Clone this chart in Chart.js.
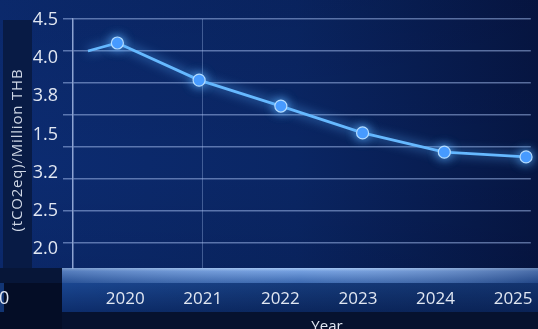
<!DOCTYPE html>
<html>
<head>
<meta charset="utf-8">
<script src="https://cdn.jsdelivr.net/npm/chart.js@4.4.1/dist/chart.umd.min.js"></script>
<style>
html,body{margin:0;padding:0;background:#06143a;}
canvas{display:block;}
</style>
</head>
<body>
<canvas id="c" width="538" height="329"></canvas>
<script>
// ---- data ----
const xLabels = ['2020', '2021', '2022', '2023', '2024', '2025'];
const years = [2019.64, 2020, 2021, 2022, 2023, 2024, 2025];
const values = [6.0, 6.25, 5.09, 4.28, 3.44, 2.84, 2.69];      // in gridline units
const yTickLabels = ['2.0', '2.5', '3.2', '1.5', '3.8', '4.0', '4.5'];
const yTitle = '(tCO2eq)/Million THB';
const xTitle = 'Year';
const strayLabel = '0';

const FONT = '"Open Sans", "Noto Sans", sans-serif';
const TXT = '#e1e7f2';

const bgPlugin = {
  id: 'bg',
  beforeDraw(chart) {
    const ctx = chart.ctx, W = chart.width, H = chart.height;
    const a = chart.chartArea;
    ctx.save();
    let g = ctx.createLinearGradient(0, 0, W, 0);
    g.addColorStop(0, '#0c2c72');
    g.addColorStop(0.55, '#0a2664');
    g.addColorStop(1, '#061643');
    ctx.fillStyle = g;
    ctx.fillRect(0, 0, W, H);
    g = ctx.createLinearGradient(0, 0, 0, H);
    g.addColorStop(0, 'rgba(0,0,20,0.08)');
    g.addColorStop(0.5, 'rgba(0,0,20,0)');
    g.addColorStop(1, 'rgba(0,0,20,0.15)');
    ctx.fillStyle = g;
    ctx.fillRect(0, 0, W, H);
    // left dark strip (title)
    ctx.fillStyle = '#081b45';
    ctx.fillRect(3, 20, 29, 264);
    // bottom-left dark
    ctx.fillStyle = '#071638';
    ctx.fillRect(0, a.bottom, 62, 16);
    ctx.fillStyle = '#040d26';
    ctx.fillRect(0, a.bottom + 15, 62, H - a.bottom - 15);
    ctx.fillStyle = '#123574';
    ctx.fillRect(0, a.bottom + 15, 4, 29);
    // light band under plot
    g = ctx.createLinearGradient(0, a.bottom, 0, a.bottom + 16);
    g.addColorStop(0, '#9ec2f2');
    g.addColorStop(0.2, '#6a98dc');
    g.addColorStop(1, '#2a5aa6');
    ctx.fillStyle = g;
    ctx.fillRect(62, a.bottom, W - 62, 16);
    g = ctx.createLinearGradient(62, 0, W, 0);
    g.addColorStop(0, 'rgba(20,40,90,0.25)');
    g.addColorStop(0.5, 'rgba(255,255,255,0.06)');
    g.addColorStop(1, 'rgba(10,25,70,0.35)');
    ctx.fillStyle = g;
    ctx.fillRect(62, a.bottom, W - 62, 16);
    // label band
    g = ctx.createLinearGradient(0, a.bottom + 15, 0, a.bottom + 44);
    g.addColorStop(0, '#1a4690');
    g.addColorStop(1, '#0d2d6c');
    ctx.fillStyle = g;
    ctx.fillRect(62, a.bottom + 15, W - 62, 29);
    g = ctx.createLinearGradient(62, 0, W, 0);
    g.addColorStop(0, 'rgba(0,0,0,0)');
    g.addColorStop(1, 'rgba(5,15,45,0.35)');
    ctx.fillStyle = g;
    ctx.fillRect(62, a.bottom + 15, W - 62, 29);
    // bottom strip
    ctx.fillStyle = '#06122f';
    ctx.fillRect(62, a.bottom + 44, W - 62, H - a.bottom - 44);
    ctx.restore();
  },
  beforeDatasetsDraw(chart) {
    chart.ctx.save();
    chart.ctx.shadowColor = 'rgba(90,175,255,1)';
    chart.ctx.shadowBlur = 11;
  },
  afterDatasetsDraw(chart) {
    chart.ctx.restore();
  },
  afterDraw(chart) {
    const ctx = chart.ctx;
    ctx.save();
    ctx.fillStyle = TXT;
    ctx.font = '15px ' + FONT;
    ctx.textAlign = 'center';
    ctx.textBaseline = 'middle';
    ctx.fillText(xTitle, 327, 327);
    ctx.textAlign = 'left';
    ctx.font = '18px ' + FONT;
    ctx.fillText(strayLabel, -1, 299);
    // y title
    ctx.translate(18, 150);
    ctx.rotate(-Math.PI / 2);
    ctx.textAlign = 'center';
    ctx.font = '15px ' + FONT;
    if ('letterSpacing' in ctx) ctx.letterSpacing = '0.8px';
    ctx.fillStyle = '#cfd7e6';
    ctx.fillText(yTitle, 0, 0);
    ctx.restore();
  }
};

new Chart(document.getElementById('c'), {
  type: 'line',
  data: {
    datasets: [{
      data: years.map((x, i) => ({ x: x, y: values[i] })),
      borderColor: '#66b9ff',
      borderWidth: 2.8,
      tension: 0,
      pointRadius: values.map((v, i) => i === 0 ? 0 : 6),
      pointBackgroundColor: '#4598ff',
      pointBorderColor: '#b4dcff',
      pointBorderWidth: 1.2,
      clip: false
    }]
  },
  options: {
    responsive: false,
    animation: false,
    devicePixelRatio: 1,
    layout: { padding: { top: 19, right: 0, bottom: 0, left: 0 } },
    plugins: { legend: { display: false }, tooltip: { enabled: false } },
    scales: {
      x: {
        type: 'linear', display: false, min: 2019.457, max: 2025.058
      },
      x2: {
        type: 'linear', position: 'bottom', min: 2019.327, max: 2025.228,
        afterBuildTicks: s => { s.ticks = xLabels.map((l, i) => ({ value: 2020 + i })); },
        afterFit: s => { s.height = 61; s.paddingLeft = 0; s.paddingRight = 0; },
        border: { display: false },
        grid: {
          drawTicks: false,
          color: c => c.tick && c.tick.value === 2021 ? 'rgba(170,195,240,0.35)' : 'rgba(0,0,0,0)',
          lineWidth: 1
        },
        ticks: {
          padding: 21, color: TXT, font: { family: FONT, size: 17 },
          maxRotation: 0, autoSkip: false,
          callback: (v, i) => xLabels[i]
        }
      },
      y: {
        type: 'linear', position: 'left', min: -0.78, max: 7,
        afterBuildTicks: s => { s.ticks = [0, 1, 2, 3, 4, 5, 6, 7].map(v => ({ value: v })); },
        afterFit: s => { s.width = 10; s.paddingTop = 0; s.paddingBottom = 0; },
        border: { display: true, color: 'rgba(185,205,245,0.75)', width: 1.5 },
        grid: { color: 'rgba(165,190,240,0.52)', lineWidth: 1.5, tickLength: 10 },
        ticks: { display: false }
      },
      y2: {
        type: 'linear', position: 'left', min: -0.497, max: 6.026,
        afterBuildTicks: s => { s.ticks = yTickLabels.map((l, i) => ({ value: i })); },
        afterFit: s => { s.width = 63; s.paddingTop = 0; s.paddingBottom = 0; },
        border: { display: false },
        grid: { display: false, drawTicks: false },
        ticks: {
          padding: 5, color: TXT, font: { family: FONT, size: 18 },
          callback: (v, i) => yTickLabels[i]
        }
      }
    }
  },
  plugins: [bgPlugin]
});
</script>
</body>
</html>
